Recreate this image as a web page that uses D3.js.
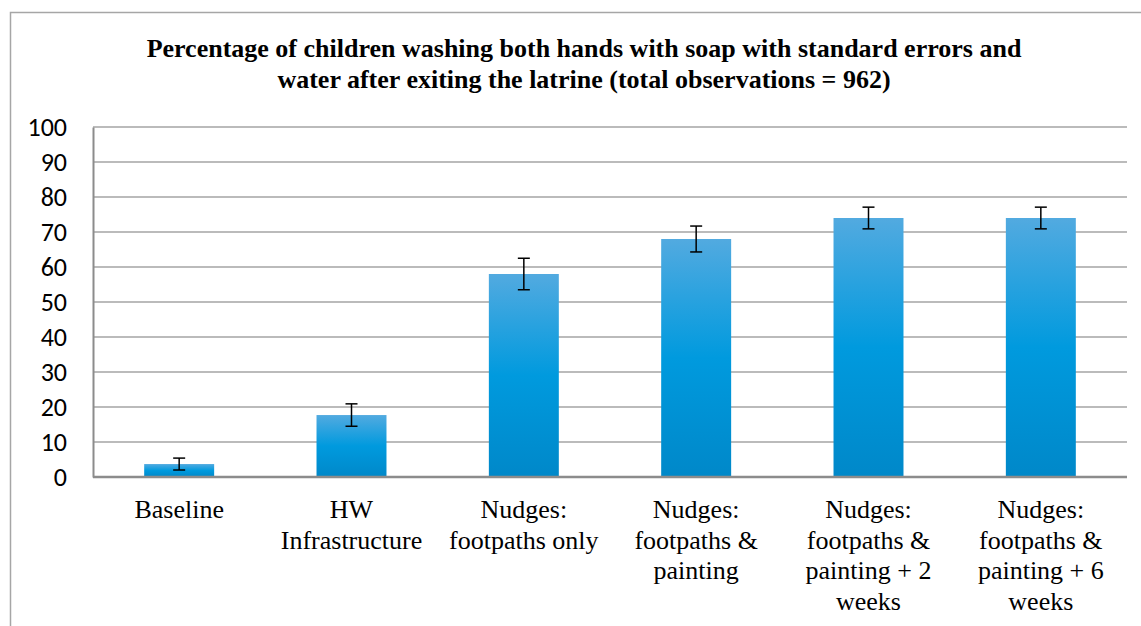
<!DOCTYPE html>
<html>
<head>
<meta charset="utf-8">
<script src="https://cdn.jsdelivr.net/npm/d3@7"></script>
</head>
<body style="margin:0">
<script>
// data
const categories = ['Baseline', 'HW Infrastructure', 'Nudges: footpaths only', 'Nudges: footpaths & painting',
    'Nudges: footpaths & painting + 2 weeks', 'Nudges: footpaths & painting + 6 weeks'];
const categoryLines = [
    ['Baseline'],
    ['HW', 'Infrastructure'],
    ['Nudges:', 'footpaths only'],
    ['Nudges:', 'footpaths &', 'painting'],
    ['Nudges:', 'footpaths &', 'painting + 2', 'weeks'],
    ['Nudges:', 'footpaths &', 'painting + 6', 'weeks']
];
const percentValues = [3.7, 17.7, 58, 68, 74, 74];
const standardErrors = [1.7, 3.2, 4.5, 3.7, 3.1, 3.1];
const yTicks = [0, 10, 20, 30, 40, 50, 60, 70, 80, 90, 100];
const titleLines = [
    'Percentage of children washing both hands with soap with standard errors and',
    'water after exiting the latrine (total observations = 962)'
];

const width = 1141, height = 626;
const plot = {left: 93, right: 1127, top: 127, bottom: 477};
const SERIF = "'Liberation Serif'";
const CALIBRI = "'Carlito'";

const svg = d3.select('body').append('svg')
    .attr('width', width)
    .attr('height', height)
    .style('font-family', SERIF);

// outer chart frame (runs off the right / bottom edge)
svg.append('rect')
    .attr('x', 10.5).attr('y', 12.5)
    .attr('width', 1160).attr('height', 640)
    .attr('fill', 'none')
    .attr('stroke', '#a6a6a6')
    .attr('stroke-width', 1.5);

// title
svg.append('text')
    .attr('x', 584)
    .attr('text-anchor', 'middle')
    .attr('fill', '#000')
    .selectAll('tspan')
    .data(titleLines)
    .join('tspan')
    .style('font-family', SERIF)
    .style('font-weight', 'bold')
    .style('font-size', '26px')
    .attr('x', 584)
    .attr('y', (d, i) => 57 + i * 31)
    .text(d => d);

const x = d3.scaleBand()
    .domain(categories)
    .range([plot.left, plot.right])
    .paddingInner(0.594)
    .paddingOuter(0.297);

const y = d3.scaleLinear()
    .domain([0, 100])
    .range([plot.bottom, plot.top]);

// grid lines
svg.append('g')
    .selectAll('line')
    .data(yTicks.filter(t => t > 0))
    .join('line')
    .attr('x1', plot.left)
    .attr('x2', plot.right)
    .attr('y1', d => y(d))
    .attr('y2', d => y(d))
    .attr('stroke', '#a5a5a5')
    .attr('stroke-width', 1.5);

// y axis
const yAxis = svg.append('g')
    .attr('transform', `translate(${plot.left},0)`)
    .call(d3.axisLeft(y).tickValues(yTicks).tickSize(0).tickPadding(26))
    .attr('font-family', CALIBRI)
    .attr('font-size', 26);
yAxis.select('.domain').attr('stroke', '#8c8c8c').attr('stroke-width', 2);
yAxis.selectAll('text')
    .style('font-family', CALIBRI)
    .style('font-size', '26px')
    .attr('fill', '#000');

// bar gradient
const grad = svg.append('defs').append('linearGradient')
    .attr('id', 'barGrad')
    .attr('x1', 0).attr('y1', 0).attr('x2', 0).attr('y2', 1);
grad.append('stop').attr('offset', '0%').attr('stop-color', '#52aae0');
grad.append('stop').attr('offset', '50%').attr('stop-color', '#009ade');
grad.append('stop').attr('offset', '100%').attr('stop-color', '#0088c9');

// bars
svg.append('g')
    .selectAll('rect')
    .data(percentValues)
    .join('rect')
    .attr('x', (d, i) => x(categories[i]))
    .attr('y', d => y(d))
    .attr('width', x.bandwidth())
    .attr('height', d => y(0) - y(d))
    .attr('fill', 'url(#barGrad)');

// x axis baseline
svg.append('line')
    .attr('x1', plot.left)
    .attr('x2', plot.right)
    .attr('y1', y(0))
    .attr('y2', y(0))
    .attr('stroke', '#8c8c8c')
    .attr('stroke-width', 2.5);

// error bars
const errG = svg.append('g')
    .selectAll('g')
    .data(percentValues)
    .join('g')
    .attr('transform', (d, i) => `translate(${x(categories[i]) + x.bandwidth() / 2},0)`)
    .attr('stroke', '#000')
    .attr('stroke-width', 1.5);
errG.append('line')
    .attr('y1', (d, i) => y(d + standardErrors[i]))
    .attr('y2', (d, i) => y(d - standardErrors[i]));
errG.append('line')
    .attr('x1', -6).attr('x2', 6)
    .attr('y1', (d, i) => y(d + standardErrors[i]))
    .attr('y2', (d, i) => y(d + standardErrors[i]));
errG.append('line')
    .attr('x1', -6).attr('x2', 6)
    .attr('y1', (d, i) => y(d - standardErrors[i]))
    .attr('y2', (d, i) => y(d - standardErrors[i]));

// category labels
svg.append('g')
    .selectAll('text')
    .data(categoryLines)
    .join('text')
    .attr('text-anchor', 'middle')
    .attr('fill', '#000')
    .each(function (lines, i) {
        const cx = x(categories[i]) + x.bandwidth() / 2;
        d3.select(this).selectAll('tspan')
            .data(lines)
            .join('tspan')
            .style('font-family', SERIF)
            .style('font-size', '26px')
            .attr('x', cx)
            .attr('y', (d, j) => 518 + j * 30.7)
            .text(d => d);
    });
</script>
</body>
</html>
